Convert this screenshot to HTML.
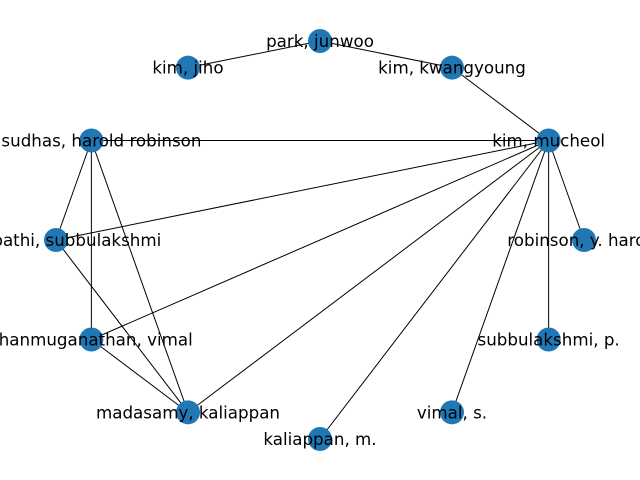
<!DOCTYPE html>
<html><head><meta charset="utf-8"><style>
html,body{margin:0;padding:0;background:#fff;}
svg{display:block;}
text{font-family:"DejaVu Sans","Liberation Sans",sans-serif;font-size:16.7px;fill:#000;}
</style></head><body>
<svg id="chart" width="640" height="480" viewBox="0 0 640 480">
<rect width="640" height="480" fill="#fff"/>
<g id="edges"></g>
<g id="nodes"></g>
<g id="labels"></g>
</svg>
<script>
const nodeNames = ["robinson, y. harold","kim, mucheol","kim, kwangyoung","park, junwoo","kim, jiho","vasudhas, harold robinson","ganapathi, subbulakshmi","shanmuganathan, vimal","madasamy, kaliappan","kaliappan, m.","vimal, s.","subbulakshmi, p."];
const edgeSources = [3,3,2,5,5,5,5,1,1,1,1,1,1,1,6,7];
const edgeTargets = [4,2,1,1,6,7,8,6,7,8,9,10,11,0,8,8];
const NS = "http://www.w3.org/2000/svg";
const cx = 320, cy = 240, rx = 264, ry = 199;
function pos(i){
  const a = 2*Math.PI*i/nodeNames.length;
  return [cx + rx*Math.cos(a), cy - ry*Math.sin(a)];
}
const eg = document.getElementById('edges');
edgeSources.forEach((s,k)=>{
  const [x1,y1]=pos(s),[x2,y2]=pos(edgeTargets[k]);
  const l=document.createElementNS(NS,'line');
  l.setAttribute('x1',x1);l.setAttribute('y1',y1);l.setAttribute('x2',x2);l.setAttribute('y2',y2);
  l.setAttribute('stroke','#000');l.setAttribute('stroke-width','1');
  
  
  eg.appendChild(l);
});
const ng=document.getElementById('nodes'), lg=document.getElementById('labels');
nodeNames.forEach((n,i)=>{
  const [x,y]=pos(i);
  const c=document.createElementNS(NS,'circle');
  c.setAttribute('cx',x);c.setAttribute('cy',y);c.setAttribute('r','12');c.setAttribute('fill','#1f77b4');
  
  
  ng.appendChild(c);
  const t=document.createElementNS(NS,'text');
  t.setAttribute('x',x);t.setAttribute('y',y+6);t.setAttribute('text-anchor','middle');
  t.textContent=n;
  
  
  lg.appendChild(t);
});
</script>
</body></html>
